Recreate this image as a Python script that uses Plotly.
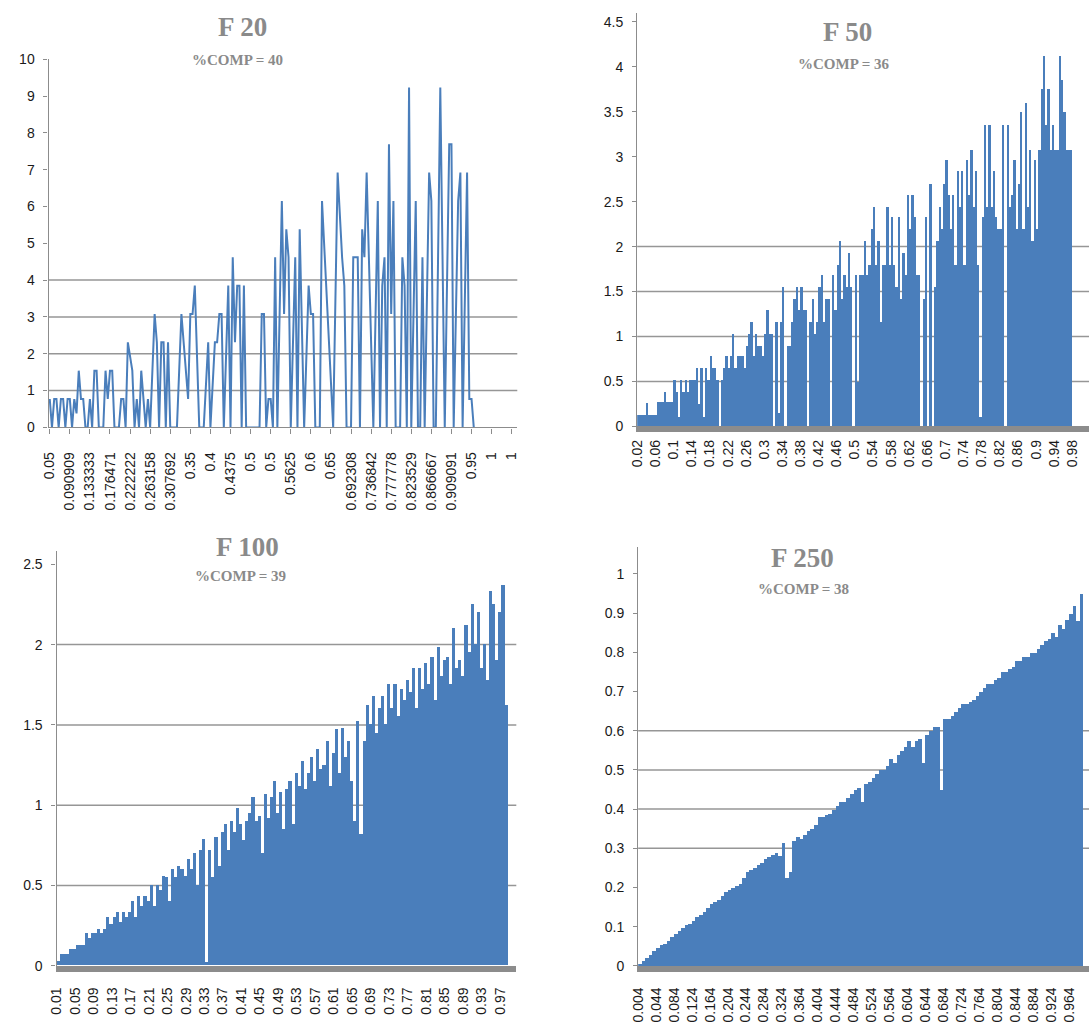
import plotly.graph_objects as go

BLUE = "#4A7EBB"
AXIS_GREY = "#8C8C8C"
GRID_GREY = "#969696"
TITLE_GREY = "#8A8A8A"
TEXT = "#1A1A1A"
W, H = 1091, 1030

# ---------------- F 20 : line over 210 sorted fraction categories ----------------
F20_N_CAT = 210
F20_LABEL_STEP = 9
f20_labels = ["0.05", "0.090909", "0.133333", "0.176471", "0.222222", "0.263158",
              "0.307692", "0.35", "0.4", "0.4375", "0.5", "0.5", "0.5625", "0.6",
              "0.65", "0.692308", "0.736842", "0.777778", "0.823529", "0.866667",
              "0.909091", "0.95", "1", "1"]
f20_cat = [0, 1, 2, 3, 4, 5, 6, 7, 8, 9, 10, 11, 12, 13, 14, 15, 16, 17, 18, 19,
           20, 21, 22, 24, 25, 26, 27, 28, 29, 31, 32, 33, 34, 35, 37, 38, 39, 40,
           41, 43, 44, 45, 47, 48, 49, 50, 51, 52, 53, 54, 57, 59, 62, 63, 64, 65,
           67, 69, 71, 72, 74, 75, 76, 77, 78, 80, 81, 82, 83, 84, 85, 86, 87, 88,
           94, 95, 96, 97, 98, 99, 100, 101, 102, 104, 105, 106, 107, 108, 110, 111,
           112, 114, 116, 117, 118, 119, 121, 122, 127, 129, 131, 132, 133, 135, 136,
           138, 139, 140, 141, 142, 143, 145, 147, 148, 149, 150, 151, 152, 153, 154,
           155, 157, 158, 159, 160, 161, 162, 164, 165, 166, 167, 168, 170, 171, 172,
           173, 175, 177, 179, 180, 181, 183, 184, 185, 187, 188, 189, 190]
f20_val = [0.77, 0, 0.77, 0.77, 0, 0.77, 0.77, 0, 0.77, 0.77, 0, 0.77, 0.38, 1.54,
           0.77, 0.77, 0, 0, 0.77, 0, 1.54, 1.54, 0, 0, 1.54, 0.77, 1.54, 1.54, 0, 0,
           0.77, 0.77, 0, 2.31, 1.54, 0, 0.77, 0, 1.54, 0, 0.77, 0, 3.08, 2.31, 0,
           2.31, 2.31, 0, 2.31, 0, 0, 3.08, 0.77, 3.08, 3.08, 3.85, 0, 0, 2.31, 0,
           2.31, 2.31, 3.08, 3.08, 0, 3.85, 0, 4.62, 2.31, 3.85, 3.85, 0, 3.85, 0,
           0, 3.08, 3.08, 0, 0.77, 0.77, 0, 4.62, 0, 6.15, 3.08, 5.38, 4.62, 0, 4.62, 0,
           5.38, 0, 3.85, 3.08, 3.08, 0, 0, 6.15, 0, 6.92, 4.62, 3.85, 0, 0, 4.62,
           4.62, 0, 5.38, 4.62, 6.92, 4.62, 0, 6.15, 0, 3.85, 4.62, 0, 7.69, 3.08, 6.15,
           0, 0, 4.62, 3.85, 0, 9.23, 0, 6.15, 0, 0, 4.62, 0, 6.92, 6.15, 0,
           0, 9.23, 0, 7.69, 7.69, 0, 6.15, 6.92, 0, 6.92, 0.77, 0.77, 0]

# ---------------- F 50 ----------------
F50_N_CAT = 1275
F50_BELOW_ONE = 1225
F50_LABEL_STEP = 51
f50_labels = ["0.02", "0.06", "0.1", "0.14", "0.18", "0.22", "0.26", "0.3", "0.34",
              "0.38", "0.42", "0.46", "0.5", "0.54", "0.58", "0.62", "0.66", "0.7",
              "0.74", "0.78", "0.82", "0.86", "0.9", "0.94", "0.98"]
f50_val = [
    0.13, 0.13, 0.13, 0.13, 0.26, 0.13, 0.13, 0.13,
    0.13, 0.27, 0.27, 0.27, 0.38, 0.27, 0.27, 0.27,
    0.52, 0.38, 0.1, 0.52, 0.38, 0.52, 0.38, 0.52,
    0.52, 0.52, 0.65, 0.25, 0.65, 0.1, 0.65, 0.52,
    0.78, 0.65, 0.65, 0.52, 0, 0.52, 0.65, 0.78,
    0.65, 0.78, 1.03, 0.65, 0.78, 0.78, 0.78, 0.65,
    0.9, 1.03, 1.16, 0.78, 1.03, 0.9, 0.9, 0.78,
    1.03, 1.3, 1.03, 1.03, 0, 1.16, 0.15, 1.16,
    1.55, 0, 0.9, 0.9, 1.16, 1.42, 1.55, 1.3,
    1.55, 1.3, 1.3, 0, 1.16, 1.42, 1.03, 1.16,
    1.55, 1.68, 1.16, 1.42, 1.42, 0, 1.68, 1.3,
    1.8, 2.06, 1.42, 1.68, 1.55, 1.93, 1.55, 0,
    1.68, 0.5, 1.68, 1.68, 2.06, 1.68, 1.8, 2.2,
    2.44, 1.8, 2.06, 1.16, 1.8, 1.8, 2.44, 1.8,
    2.33, 1.8, 1.55, 2.33, 1.42, 1.93, 1.68, 2.58,
    2.2, 2.58, 2.33, 1.68, 1.68, 0, 1.42, 2.33,
    0, 2.7, 0, 1.55, 2.06, 2.44, 2.2, 2.7,
    2.96, 2.58, 2.2, 2.58, 1.8, 2.84, 2.44, 2.84,
    1.8, 2.96, 2.58, 3.08, 2.44, 2.84, 1.8, 0.1,
    2.33, 3.35, 2.44, 3.35, 2.44, 2.84, 2.33, 2.2,
    2.2, 3.35, 0, 3.35, 2.44, 2.58, 2.96, 2.2,
    2.7, 3.5, 2.2, 3.6, 2.44, 3.08, 2.06, 2.96,
    2.2, 3.08, 3.75, 4.12, 3.35, 3.75, 3.08, 3.35,
    3.08, 3.08, 4.12, 3.85, 3.5, 3.08, 3.08, 3.08,
]

# ---------------- F 100 ----------------
F100_N_CAT = 5050
F100_BELOW_ONE = 4950
F100_LABEL_STEP = 203
f100_labels = ["0.01", "0.05", "0.09", "0.13", "0.17", "0.21", "0.25", "0.29", "0.33",
               "0.37", "0.41", "0.45", "0.49", "0.53", "0.57", "0.61", "0.65", "0.69",
               "0.73", "0.77", "0.81", "0.85", "0.89", "0.93", "0.97"]
f100_val = [
    0.03, 0.07, 0.07, 0.07, 0.1, 0.1,
    0.13, 0.13, 0.13, 0.2, 0.17, 0.2,
    0.2, 0.23, 0.2, 0.23, 0.3, 0.26,
    0.3, 0.33, 0.27, 0.33, 0.3, 0.33,
    0.4, 0.3, 0.43, 0.37, 0.43, 0.4,
    0.5, 0.37, 0.5, 0.47, 0.56, 0.55,
    0.4, 0.6, 0.55, 0.62, 0.6, 0.56,
    0.66, 0.6, 0.7, 0.5, 0.72, 0.79,
    0.02, 0.72, 0.55, 0.8, 0.62, 0.83,
    0.88, 0.72, 0.9, 0.83, 0.98, 0.88,
    0.78, 0.9, 0.95, 1.05, 0.9, 0.93,
    0.7, 1.07, 0.92, 1.05, 1.15, 0.95,
    1.08, 0.85, 1.1, 1.15, 0.88, 1.2,
    1.12, 1.27, 1.1, 1.2, 1.3, 1.15,
    1.35, 1.22, 1.25, 1.4, 1.12, 1.32,
    1.47, 1.2, 1.48, 1.3, 1.4, 1.15,
    0.9, 1.52, 0.82, 1.4, 1.62, 1.5,
    1.68, 1.45, 1.6, 1.68, 1.5, 1.75,
    1.6, 1.75, 1.55, 1.72, 1.65, 1.78,
    1.7, 1.85, 1.6, 1.85, 1.72, 1.88,
    1.75, 1.92, 1.65, 1.98, 1.8, 1.9,
    1.92, 1.75, 2.1, 1.85, 1.9, 1.8,
    2.12, 1.95, 2.25, 2.0, 2.2, 1.85,
    2.0, 1.78, 2.33, 2.25, 1.9, 2.2,
    2.37, 1.62,
]

# ---------------- F 250 ----------------
F250_N_CAT = 31375
F250_BELOW_ONE = 31125
F250_LABEL_STEP = 1255
f250_labels = ["0.004", "0.044", "0.084", "0.124", "0.164", "0.204", "0.244", "0.284",
               "0.324", "0.364", "0.404", "0.444", "0.484", "0.524", "0.564", "0.604",
               "0.644", "0.684", "0.724", "0.764", "0.804", "0.844", "0.884", "0.924",
               "0.964"]
f250_val = [
    0.005, 0.015, 0.022, 0.03, 0.04,
    0.048, 0.055, 0.058, 0.065, 0.075,
    0.082, 0.09, 0.098, 0.105, 0.108,
    0.115, 0.125, 0.13, 0.14, 0.15,
    0.16, 0.165, 0.17, 0.18, 0.19,
    0.195, 0.2, 0.205, 0.21, 0.225,
    0.24, 0.245, 0.25, 0.258, 0.265,
    0.275, 0.28, 0.285, 0.29, 0.282,
    0.315, 0.225, 0.24, 0.32, 0.33,
    0.325, 0.335, 0.345, 0.35, 0.36,
    0.38, 0.38, 0.385, 0.39, 0.40,
    0.41, 0.42, 0.42, 0.43, 0.44,
    0.45, 0.455, 0.42, 0.465, 0.47,
    0.48, 0.49, 0.5, 0.5, 0.51,
    0.53, 0.52, 0.54, 0.55, 0.56,
    0.575, 0.56, 0.575, 0.58, 0.52,
    0.59, 0.6, 0.61, 0.61, 0.45,
    0.63, 0.63, 0.64, 0.65, 0.66,
    0.67, 0.67, 0.675, 0.68, 0.69,
    0.7, 0.71, 0.72, 0.72, 0.73,
    0.735, 0.75, 0.75, 0.76, 0.765,
    0.78, 0.78, 0.79, 0.79, 0.8,
    0.8, 0.81, 0.82, 0.83, 0.835,
    0.85, 0.84, 0.87, 0.86, 0.885,
    0.9, 0.92, 0.88, 0.95,
]


def px_x(px):
    return px / W


def px_y(py):
    return 1 - py / H


def bar_trace(values, below_one, xa, ya):
    # each value covers an equal share of the categories that lie below 1
    w = below_one / len(values)
    xs = [(i + 0.5) * w - 0.5 for i in range(len(values))]
    return go.Bar(x=xs, y=values, width=w, xaxis=xa, yaxis=ya,
                  marker=dict(color=BLUE, line=dict(width=0)), hoverinfo="skip",
                  showlegend=False)


fig = go.Figure()
fig.add_trace(go.Scatter(x=f20_cat, y=f20_val, mode="lines", xaxis="x", yaxis="y",
                         line=dict(color=BLUE, width=2), hoverinfo="skip",
                         showlegend=False))
fig.add_trace(bar_trace(f50_val, F50_BELOW_ONE, "x2", "y2"))
fig.add_trace(bar_trace(f100_val, F100_BELOW_ONE, "x3", "y3"))
fig.add_trace(bar_trace(f250_val, F250_BELOW_ONE, "x4", "y4"))

tick_font = dict(family="Liberation Sans", size=14, color=TEXT)


def x_axis(anchor, domain, rng, step, labels, band, standoff):
    ax = dict(anchor=anchor, domain=domain, range=rng, tickmode="array",
              tickvals=[k * step for k in range(len(labels))], ticktext=labels,
              tickangle=-90, tickfont=tick_font, showgrid=False, zeroline=False,
              showline=True, linecolor=AXIS_GREY, fixedrange=True,
              ticklabelstandoff=standoff)
    if band:
        ax.update(linewidth=6, ticks="")
    else:
        ax.update(linewidth=1.3, ticks="outside", ticklen=5, tickcolor=AXIS_GREY,
                  tickwidth=1)
    return ax


def y_axis(anchor, domain, rng, vals, labels):
    return dict(anchor=anchor, domain=domain, range=rng, tickmode="array",
                tickvals=vals, ticktext=labels, tickfont=tick_font, showgrid=False,
                zeroline=False, showline=True, linecolor=AXIS_GREY, linewidth=1.3,
                ticks="outside", ticklen=4, tickcolor=AXIS_GREY, fixedrange=True,
                ticklabelstandoff=6)


f20_y = list(range(0, 11))
f50_y = [0, 0.5, 1, 1.5, 2, 2.5, 3, 3.5, 4, 4.5]
f100_y = [0, 0.5, 1, 1.5, 2, 2.5]
f250_y = [0, 0.1, 0.2, 0.3, 0.4, 0.5, 0.6, 0.7, 0.8, 0.9, 1]

fig.update_layout(
    width=W, height=H, margin=dict(l=0, r=0, t=0, b=0),
    paper_bgcolor="white", plot_bgcolor="white", bargap=0,
    xaxis=x_axis("y", [px_x(41), px_x(514)], [-0.5, F20_N_CAT - 0.5], F20_LABEL_STEP,
                 f20_labels, False, 13),
    yaxis=y_axis("x", [px_y(426), px_y(52)], [0, 10], f20_y, [str(v) for v in f20_y]),
    xaxis2=x_axis("y2", [px_x(635), 1.0], [-0.5, 1271], F50_LABEL_STEP, f50_labels,
                  True, 2),
    yaxis2=y_axis("x2", [px_y(425), px_y(5)], [0, 4.6], f50_y,
                  [f"{v:g}" for v in f50_y]),
    xaxis3=x_axis("y3", [px_x(49), px_x(513)], [-0.5, F100_N_CAT - 0.5],
                  F100_LABEL_STEP, f100_labels, True, 10),
    yaxis3=y_axis("x3", [px_y(973), px_y(552)], [0, 2.58], f100_y,
                  [f"{v:g}" for v in f100_y]),
    xaxis4=x_axis("y4", [px_x(636), 1.0], [-0.5, 31500], F250_LABEL_STEP, f250_labels,
                  True, 10),
    yaxis4=y_axis("x4", [px_y(973), px_y(547)], [0, 1.07], f250_y,
                  [f"{v:g}" for v in f250_y]),
)

# horizontal gridlines (only the middle levels are drawn)
grid_levels = {"y": [1, 2, 3, 4], "y2": [0.5, 1, 1.5, 2],
               "y3": [0.5, 1, 1.5, 2], "y4": [0.3, 0.4, 0.5, 0.6]}
axis_pair = {"y": "x", "y2": "x2", "y3": "x3", "y4": "x4"}
for ya, levels in grid_levels.items():
    for lv in levels:
        fig.add_shape(type="line", xref=f"{axis_pair[ya]} domain", yref=ya,
                      x0=0, x1=1, y0=lv, y1=lv, layer="below",
                      line=dict(color=GRID_GREY, width=1.5))

# chart titles and subtitles
titles = [("F 20", "%COMP = 40", 237, 19, 232, 53),
          ("F 50", "%COMP = 36", 847, 24, 844, 57),
          ("F 100", "%COMP = 39", 242, 548, 235, 577),
          ("F 250", "%COMP = 38", 802, 559, 803, 590)]
for title, sub, tx, ty, sx, sy in titles:
    fig.add_annotation(text=f"<b>{title}</b>", x=px_x(tx), y=px_y(ty), xref="paper",
                       yref="paper", showarrow=False, xanchor="center", yanchor="middle",
                       font=dict(family="Liberation Serif", size=27, color=TITLE_GREY))
    fig.add_annotation(text=f"<b>{sub}</b>", x=px_x(sx), y=px_y(sy), xref="paper",
                       yref="paper", showarrow=False, xanchor="center", yanchor="middle",
                       font=dict(family="Liberation Serif", size=15, color=TITLE_GREY))

fig.write_html("out.html")
